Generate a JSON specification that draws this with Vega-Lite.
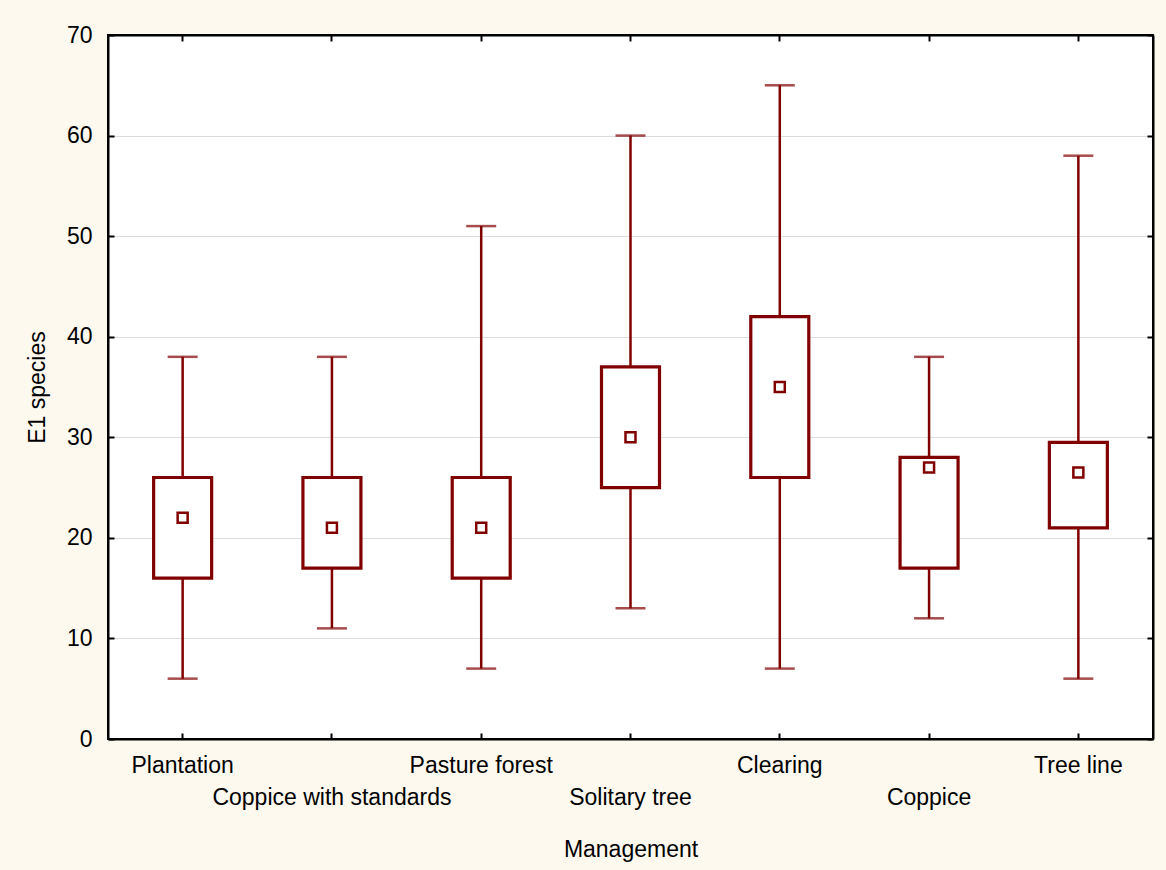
{
  "$schema": "https://vega.github.io/schema/vega-lite/v6.json",
  "width": 1045,
  "height": 704,
  "autosize": {"type": "none"},
  "padding": {"left": 108, "top": 35, "right": 13, "bottom": 131},
  "background": "#FDF9EF",
  "config": {
    "view": {"fill": "white", "stroke": "black", "strokeWidth": 2},
    "axis": {
      "labelFont": "Liberation Sans",
      "titleFont": "Liberation Sans",
      "labelFontSize": 23,
      "titleFontSize": 23,
      "labelColor": "black",
      "titleColor": "black",
      "titleFontWeight": "normal",
      "domainColor": "black",
      "domainWidth": 2,
      "tickColor": "black",
      "tickWidth": 2,
      "tickSize": -6,
      "gridColor": "#dcdcdc",
      "gridWidth": 1.2
    }
  },
  "data": {
    "values": [
      {"management": "Plantation", "min": 6, "q1": 16, "mean": 22, "q3": 26, "max": 38},
      {"management": "Coppice with standards", "min": 11, "q1": 17, "mean": 21, "q3": 26, "max": 38},
      {"management": "Pasture forest", "min": 7, "q1": 16, "mean": 21, "q3": 26, "max": 51},
      {"management": "Solitary tree", "min": 13, "q1": 25, "mean": 30, "q3": 37, "max": 60},
      {"management": "Clearing", "min": 7, "q1": 26, "mean": 35, "q3": 42, "max": 65},
      {"management": "Coppice", "min": 12, "q1": 17, "mean": 27, "q3": 28, "max": 38},
      {"management": "Tree line", "min": 6, "q1": 21, "mean": 26.5, "q3": 29.5, "max": 58}
    ]
  },
  "resolve": {"axis": {"x": "independent", "y": "independent"}},
  "layer": [
    {
      "mark": {"type": "rule", "color": "#800000", "strokeWidth": 2.5},
      "encoding": {
        "x": {
          "field": "management", "type": "nominal", "sort": null,
          "scale": {"paddingInner": 0, "paddingOuter": 0},
          "axis": {
            "orient": "bottom",
            "title": "Management",
            "titleY": 110,
            "titleBaseline": "middle",
            "labelAngle": 0,
            "labelBaseline": "top",
            "labelPadding": 21,
            "labelLineHeight": 32,
            "labelLimit": 0,
            "labelOverlap": false,
            "labelBound": false,
            "labelExpr": "indexof(['Coppice with standards','Solitary tree','Coppice'], datum.label) >= 0 ? ['', datum.label] : datum.label",
            "grid": false
          }
        },
        "y": {
          "field": "min", "type": "quantitative",
          "scale": {"domain": [0, 70], "nice": false},
          "axis": {
            "orient": "left",
            "title": "E1 species",
            "titleX": -71,
            "titleY": 352,
            "titleAngle": -90,
            "titleAlign": "center",
            "titleBaseline": "middle",
            "values": [0, 10, 20, 30, 40, 50, 60, 70],
            "labelPadding": 22,
            "grid": true
          }
        },
        "y2": {"field": "max"}
      }
    },
    {
      "mark": {"type": "tick", "color": "#800000", "size": 30, "thickness": 2.5},
      "encoding": {
        "x": {
          "field": "management", "type": "nominal", "sort": null,
          "axis": {"orient": "top", "title": null, "labels": false, "grid": false}
        },
        "y": {
          "field": "min", "type": "quantitative",
          "axis": {"orient": "right", "title": null, "labels": false, "grid": false, "values": [0, 10, 20, 30, 40, 50, 60, 70]}
        }
      }
    },
    {
      "mark": {"type": "tick", "color": "#800000", "size": 30, "thickness": 2.5},
      "encoding": {
        "x": {"field": "management", "type": "nominal", "sort": null, "axis": null},
        "y": {"field": "max", "type": "quantitative", "axis": null}
      }
    },
    {
      "mark": {"type": "bar", "fill": "white", "stroke": "#800000", "strokeWidth": 3.2, "size": 58},
      "encoding": {
        "x": {"field": "management", "type": "nominal", "sort": null, "axis": null},
        "y": {"field": "q1", "type": "quantitative", "axis": null},
        "y2": {"field": "q3"}
      }
    },
    {
      "mark": {"type": "point", "shape": "square", "filled": true, "fill": "white", "stroke": "#800000", "strokeWidth": 2.5, "size": 100, "opacity": 1},
      "encoding": {
        "x": {"field": "management", "type": "nominal", "sort": null, "axis": null},
        "y": {"field": "mean", "type": "quantitative", "axis": null}
      }
    }
  ]
}
